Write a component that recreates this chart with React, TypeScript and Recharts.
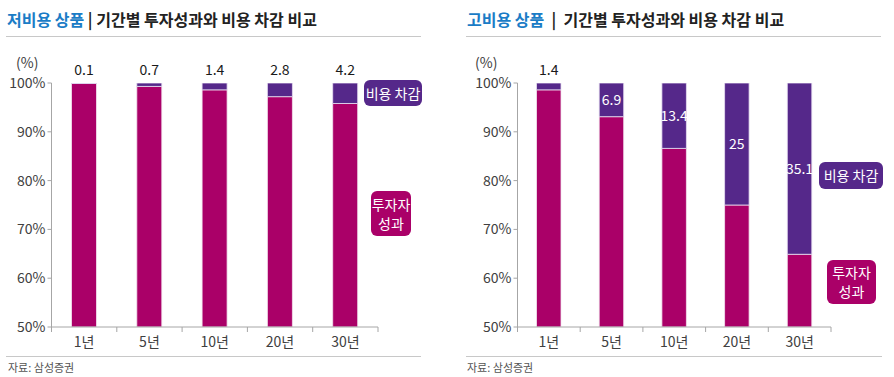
import { BarChart, Bar, XAxis, YAxis, LabelList } from "recharts";

const periods = ["1년", "5년", "10년", "20년", "30년"];
const lowCostFee = [0.1, 0.7, 1.4, 2.8, 4.2];
const lowCostPerf = [99.9, 99.3, 98.6, 97.2, 95.8];
const highCostFee = [1.4, 6.9, 13.4, 25, 35.1];
const highCostPerf = [98.6, 93.1, 86.6, 75, 64.9];
const yTicks = [50, 60, 70, 80, 90, 100];

const FONT = "'Noto Sans CJK KR', 'Noto Sans', sans-serif";
const MAGENTA = "#AA0068";
const PURPLE = "#55288A";
const AXIS = "#a6a6a6";
const TEXT = "#404040";

const lowData = periods.map((p, i) => ({ period: p, perf: lowCostPerf[i], fee: lowCostFee[i] }));
const highData = periods.map((p, i) => ({ period: p, perf: highCostPerf[i], fee: highCostFee[i] }));

// x tick: label at centre + tick marks on category boundaries (excel style)
function makeTick(step: number, count: number) {
  return (props: any) => {
    const { x, y, payload, index } = props;
    const left = x - step / 2;
    return (
      <g>
        <line x1={left} x2={left} y1={y - 8} y2={y - 3} stroke={AXIS} />
        {index === count - 1 && (
          <line x1={left + step} x2={left + step} y1={y - 8} y2={y - 3} stroke={AXIS} />
        )}
        <text x={x} y={y + 12} textAnchor="middle" fill={TEXT} fontSize={14} fontFamily={FONT}>
          {payload.value}
        </text>
      </g>
    );
  };
}

function highLabel(props: any) {
  const { x, y, width, height, value } = props;
  if (value < 3) {
    return (
      <text x={x + width / 2} y={y - 8} textAnchor="middle" fill="#1a1a1a" fontSize={14} fontFamily={FONT}>
        {value}
      </text>
    );
  }
  return (
    <text x={x + width / 2} y={y + height / 2 + 5} textAnchor="middle" fill="#fff" fontSize={14} fontFamily={FONT}>
      {value}
    </text>
  );
}

function Title({ left, head, sep }: { left: number; head: string; sep: string }) {
  return (
    <>
      <div style={{ position: "absolute", left, top: 7, fontSize: 16, fontWeight: 700, whiteSpace: "pre", color: "#222" }}>
        <span style={{ color: "#1a7cc6" }}>{head}</span>
        {sep}기간별 투자성과와 비용 차감 비교
      </div>
      <div style={{ position: "absolute", left: left - 1, top: 36, width: 415, height: 1, background: "#c8c8c8" }} />
    </>
  );
}

function Tag({ left, top, w, h, color, children }: any) {
  return (
    <div
      style={{
        position: "absolute", left, top, width: w, height: h, background: color, color: "#fff",
        borderRadius: 6, fontSize: 14, lineHeight: "19px", textAlign: "center",
        display: "flex", alignItems: "center", justifyContent: "center",
      }}
    >
      {children}
    </div>
  );
}

export default function App() {
  const yAxisProps = {
    type: "number" as const,
    domain: [50, 100],
    ticks: yTicks,
    allowDataOverflow: true,
    tickFormatter: (v: number) => `${v}%`,
    tick: { fill: TEXT, fontSize: 14, fontFamily: FONT },
    tickSize: 4,
    axisLine: { stroke: AXIS },
    tickLine: { stroke: AXIS },
  };
  return (
    <div style={{ position: "absolute", left: 0, top: 0, width: 894, height: 377, background: "#fff", fontFamily: FONT, overflow: "hidden" }}>
      <Title left={7} head="저비용 상품" sep=" | " />
      <Title left={467} head="고비용 상품" sep="  |  " />

      <div style={{ position: "absolute", left: 16, top: 52, fontSize: 14, color: TEXT }}>(%)</div>
      <div style={{ position: "absolute", left: 475, top: 52, fontSize: 14, color: TEXT }}>(%)</div>

      <div style={{ position: "absolute", left: 0, top: 0 }}>
        <BarChart width={447} height={377} data={lowData} margin={{ top: 83, right: 69, bottom: 20, left: 0 }} barSize={25}>
          <XAxis dataKey="period" axisLine={{ stroke: AXIS }} tickLine={false} height={30} tick={makeTick(326.5 / 5, 5)} interval={0} />
          <YAxis {...yAxisProps} width={51.5} />
          <Bar dataKey="perf" stackId="a" fill={MAGENTA} stroke="#f3e6f0" strokeWidth={0.8} isAnimationActive={false} />
          <Bar dataKey="fee" stackId="a" fill={PURPLE} stroke="#e9e0f3" strokeWidth={0.8} isAnimationActive={false}>
            <LabelList dataKey="fee" position="top" offset={8} fill="#1a1a1a" fontSize={14} fontFamily={FONT} />
          </Bar>
        </BarChart>
      </div>

      <div style={{ position: "absolute", left: 447, top: 0 }}>
        <BarChart width={447} height={377} data={highData} margin={{ top: 83, right: 63, bottom: 20, left: 0 }} barSize={24.5}>
          <XAxis dataKey="period" axisLine={{ stroke: AXIS }} tickLine={false} height={30} tick={makeTick(313.5 / 5, 5)} interval={0} />
          <YAxis {...yAxisProps} width={70.5} />
          <Bar dataKey="perf" stackId="a" fill={MAGENTA} stroke="#f3e6f0" strokeWidth={0.8} isAnimationActive={false} />
          <Bar dataKey="fee" stackId="a" fill={PURPLE} stroke="#e9e0f3" strokeWidth={0.8} isAnimationActive={false}>
            <LabelList dataKey="fee" content={highLabel} />
          </Bar>
        </BarChart>
      </div>

      <Tag left={364} top={80} w={58} h={26} color={PURPLE}>비용 차감</Tag>
      <Tag left={371} top={191} w={40} h={45} color={MAGENTA}>투자자<br />성과</Tag>
      <Tag left={819} top={162} w={64} h={27} color={PURPLE}>비용 차감</Tag>
      <Tag left={827} top={260} w={49} h={44} color={MAGENTA}>투자자<br />성과</Tag>

      <div style={{ position: "absolute", left: 6, top: 356, width: 415, height: 1, background: "#c8c8c8" }} />
      <div style={{ position: "absolute", left: 466, top: 356, width: 416, height: 1, background: "#c8c8c8" }} />
      <div style={{ position: "absolute", left: 8, top: 359, fontSize: 11, color: "#555" }}>자료: 삼성증권</div>
      <div style={{ position: "absolute", left: 467, top: 359, fontSize: 11, color: "#555" }}>자료: 삼성증권</div>
    </div>
  );
}
